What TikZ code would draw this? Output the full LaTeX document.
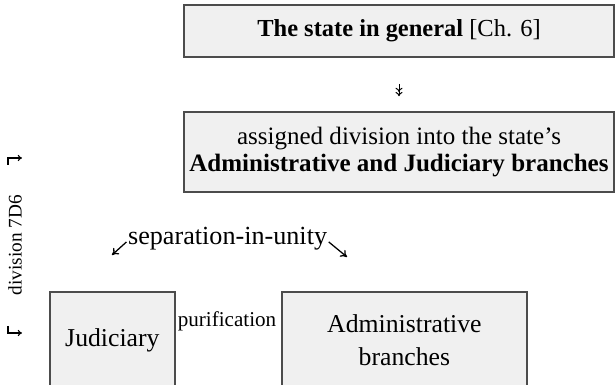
\documentclass[tikz,border=0pt]{standalone}
\usepackage{fontspec}
\setmainfont{Liberation Serif}
\usepackage{tikz}
\usetikzlibrary{arrows.meta, positioning}

\begin{document}
\begin{tikzpicture}[
    box/.style={draw=black!70, line width=1.1pt, fill=black!6, align=center, inner sep=0pt},
    arrow/.style={-{To[length=4.5pt, width=6pt]}, line width=0.9pt},
    twohead/.style={-{To[length=3pt, width=5pt] To[length=3pt, width=5pt]}, line width=0.7pt},
    hook/.style={-{To[length=3pt, width=4.5pt]}, line width=0.8pt}
]
\useasboundingbox (0, 0) rectangle (15.4, 9.625);

% The state in general
\node[box, minimum width=10.75cm, minimum height=1.3cm, font=\fontsize{17.4}{21}\selectfont] (general) at (9.975, 8.85) {\textbf{The state in general} [Ch. 6]};

% Assigned division
\node[box, minimum width=10.75cm, minimum height=2cm, font=\fontsize{17.8}{19.5}\selectfont] (assigned) at (9.975, 5.825) {assigned division into the state’s\\\textbf{Administrative and Judiciary branches}};

% The two branches (cut off at the bottom)
\node[box, minimum width=3.125cm, minimum height=2.4cm, font=\fontsize{18.3}{23.5}\selectfont] (judiciary) at (2.81, 1.125) {Judiciary};
\node[box, minimum width=6.125cm, minimum height=2.4cm, font=\fontsize{18.3}{23.5}\selectfont] (admin) at (10.11, 1.125) {Administrative\\branches};

\node[font=\fontsize{15}{18}\selectfont, inner sep=0pt] (purification) at (5.675, 1.6) {purification};

% Separation-in-unity
\node[font=\fontsize{18.6}{21}\selectfont, inner sep=0pt, anchor=base] (separation) at (5.69, 3.5) {separation-in-unity};
\coordinate (sepleft) at (2.8, 3.25);
\coordinate (sepright) at (8.675, 3.2);

% Side label
\node[rotate=90, font=\fontsize{13.7}{16}\selectfont, inner sep=0pt] (division) at (0.375, 3.5) {division 7D6};
\coordinate (topbend) at (0.2, 5.675);
\coordinate (topend) at (0.55, 5.675);
\coordinate (botbend) at (0.2, 1.3);
\coordinate (botend) at (0.55, 1.3);

% Arrows
\draw[twohead, shorten <=0.65cm, shorten >=0.375cm] (general.south) -- (assigned.north);
\draw[arrow] ([xshift=-1pt, yshift=-2pt]separation.west) -- (sepleft);
\draw[arrow] ([xshift=1pt, yshift=-2pt]separation.east) -- (sepright);
\draw[hook] ([yshift=-0.175cm]topbend) -- (topbend) -- (topend);
\draw[hook] ([yshift=0.175cm]botbend) -- (botbend) -- (botend);

\end{tikzpicture}
\end{document}
